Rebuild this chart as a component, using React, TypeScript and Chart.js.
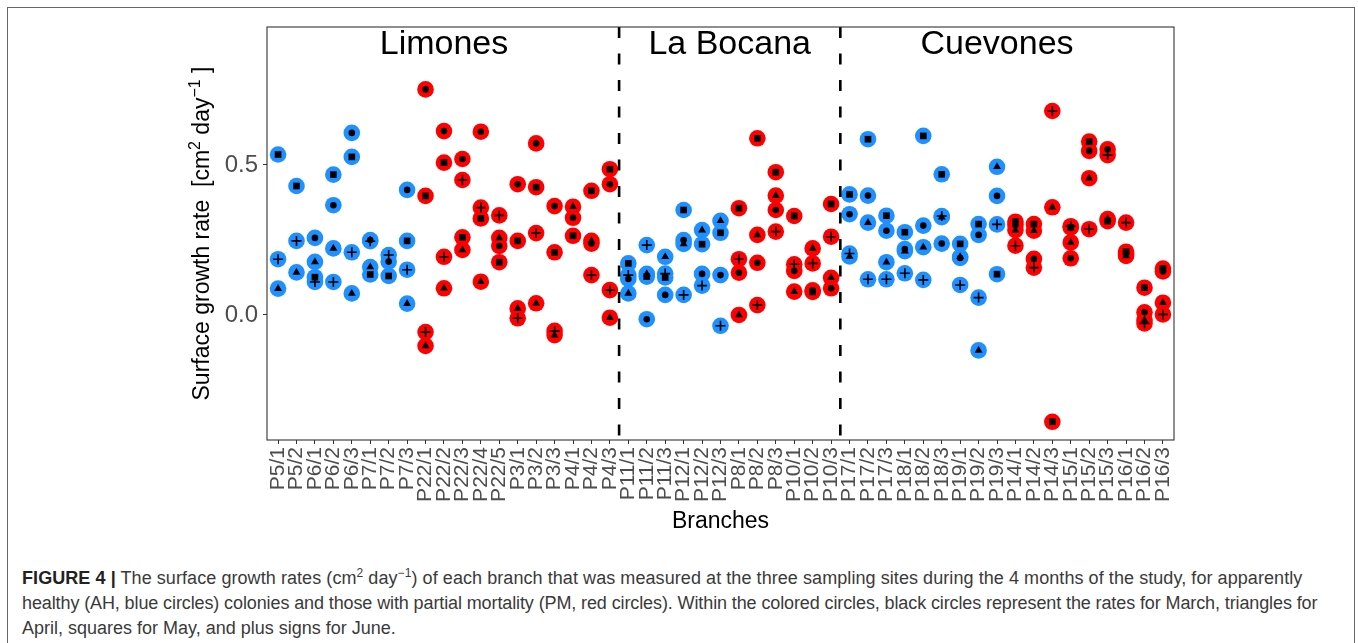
import React, { useEffect, useRef } from 'react';
import { Chart, registerables } from 'chart.js';

Chart.register(...registerables);

// ---- data ----
const branches = [
  'P5/1', 'P5/2', 'P6/1', 'P6/2', 'P6/3', 'P7/1', 'P7/2', 'P7/3',
  'P22/1', 'P22/2', 'P22/3', 'P22/4', 'P22/5', 'P3/1', 'P3/2', 'P3/3', 'P4/1', 'P4/2', 'P4/3',
  'P11/1', 'P11/2', 'P11/3', 'P12/1', 'P12/2', 'P12/3', 'P8/1', 'P8/2', 'P8/3', 'P10/1', 'P10/2', 'P10/3',
  'P17/1', 'P17/2', 'P17/3', 'P18/1', 'P18/2', 'P18/3', 'P19/1', 'P19/2', 'P19/3',
  'P14/1', 'P14/2', 'P14/3', 'P15/1', 'P15/2', 'P15/3', 'P16/1', 'P16/2', 'P16/3',
];

const groups = [
  'AH', 'AH', 'AH', 'AH', 'AH', 'AH', 'AH', 'AH',
  'PM', 'PM', 'PM', 'PM', 'PM', 'PM', 'PM', 'PM', 'PM', 'PM', 'PM',
  'AH', 'AH', 'AH', 'AH', 'AH', 'AH', 'PM', 'PM', 'PM', 'PM', 'PM', 'PM',
  'AH', 'AH', 'AH', 'AH', 'AH', 'AH', 'AH', 'AH', 'AH',
  'PM', 'PM', 'PM', 'PM', 'PM', 'PM', 'PM', 'PM', 'PM',
];

// March (black circles)
const march = [
  null, null, 0.257, 0.366, 0.607, 0.25, 0.178, 0.417,
  0.752, 0.613, 0.52, 0.611, 0.23, 0.436, 0.572, 0.363, 0.324, 0.238, 0.436,
  0.12, -0.014, 0.067, 0.25, 0.137, 0.133, 0.141, 0.174, 0.35, 0.147, 0.082, 0.089,
  0.336, 0.398, 0.281, 0.22, 0.298, 0.238, 0.19, 0.267, 0.397,
  0.3, 0.187, null, 0.189, 0.547, 0.552, 0.205, 0.009, 0.145,
];

// April (triangles)
const april = [
  0.088, 0.142, 0.177, 0.222, 0.072, 0.16, null, 0.038,
  -0.103, 0.089, 0.217, 0.111, 0.257, 0.022, 0.039, -0.067, 0.361, 0.247, -0.009,
  0.072, 0.137, 0.194, 0.237, 0.283, 0.314, 0.0, 0.267, 0.398, 0.078, 0.222, 0.124,
  0.195, 0.308, 0.176, 0.213, 0.226, 0.326, 0.194, -0.118, 0.494,
  0.283, 0.281, 0.359, 0.242, 0.456, 0.32, 0.197, -0.017, 0.041,
];

// May (squares)
const may = [
  0.535, 0.43, 0.126, 0.468, 0.527, 0.135, 0.13, 0.247,
  0.397, 0.508, 0.259, 0.322, 0.176, 0.247, 0.426, 0.209, 0.264, 0.414, 0.486,
  0.172, 0.128, 0.125, 0.35, 0.236, 0.274, 0.356, 0.589, 0.476, 0.33, 0.077, 0.37,
  0.402, 0.586, 0.331, 0.276, 0.597, 0.469, 0.237, 0.303, 0.136,
  0.311, 0.303, -0.356, 0.292, 0.578, 0.313, 0.211, 0.091, 0.155,
];

// June (plus signs)
const june = [
  0.186, 0.247, 0.11, 0.11, 0.209, 0.246, 0.2, 0.151,
  -0.057, 0.194, 0.45, 0.358, 0.332, -0.011, 0.273, -0.053, null, 0.133, 0.083,
  0.133, 0.233, 0.138, 0.067, 0.098, -0.036, 0.186, 0.033, 0.278, 0.169, 0.172, 0.261,
  0.205, 0.119, 0.119, 0.139, 0.117, 0.33, 0.1, 0.058, 0.302,
  0.231, 0.158, 0.68, 0.296, 0.286, 0.533, 0.308, -0.028, 0.002,
];

const yTicks = [0, 0.5];
const sites = ['Limones', 'La Bocana', 'Cuevones'];
const siteLabelX = [9, 24.5, 39];
const siteLabelY = 0.9;
const siteDividers = [18.5, 30.5];

const groupColors: Record<string, string> = { AH: '#1E90FF', PM: '#FF0000' };
const FONT = "'Liberation Sans', Arial, Helvetica, sans-serif";

const months = [
  { label: 'March', values: march, style: 'circle', radius: 3.3 },
  { label: 'April', values: april, style: 'triangle', radius: 4.6 },
  { label: 'May', values: may, style: 'rect', radius: 4.7 },
  { label: 'June', values: june, style: 'cross', radius: 5 },
];

function toPoints(values: (number | null)[]) {
  const pts: { x: number; y: number; g: string }[] = [];
  values.forEach((v, i) => {
    if (v !== null && v !== undefined) pts.push({ x: i, y: v, g: groups[i] });
  });
  return pts;
}

const decorPlugin = {
  id: 'decor',
  afterDatasetsDraw(chart: any) {
    const { ctx, chartArea, scales } = chart;
    const xs = scales.x;
    const ys = scales.y;
    ctx.save();
    // dashed site dividers
    ctx.strokeStyle = '#000';
    ctx.lineWidth = 2.6;
    ctx.setLineDash([11, 15.5]);
    siteDividers.forEach((d) => {
      const px = xs.getPixelForValue(d);
      ctx.beginPath();
      ctx.moveTo(px, chartArea.top);
      ctx.lineTo(px, chartArea.bottom);
      ctx.stroke();
    });
    ctx.setLineDash([]);
    // site labels
    ctx.fillStyle = '#000';
    ctx.font = `34px ${FONT}`;
    ctx.textAlign = 'center';
    ctx.textBaseline = 'middle';
    sites.forEach((s, i) => {
      ctx.fillText(s, xs.getPixelForValue(siteLabelX[i]), ys.getPixelForValue(siteLabelY));
    });
    ctx.restore();
  },
  afterDraw(chart: any) {
    const { ctx, chartArea } = chart;
    ctx.save();
    // panel border
    ctx.strokeStyle = '#333';
    ctx.lineWidth = 1.1;
    ctx.strokeRect(chartArea.left, chartArea.top, chartArea.right - chartArea.left, chartArea.bottom - chartArea.top);

    // y-axis title with superscripts
    const pieces = [
      { t: 'Surface growth rate  [cm', sup: false },
      { t: '2', sup: true },
      { t: ' day', sup: false },
      { t: '\u22121', sup: true },
      { t: ' ]', sup: false },
    ];
    const normal = `23px ${FONT}`;
    const small = `16px ${FONT}`;
    let total = 0;
    pieces.forEach((p) => {
      ctx.font = p.sup ? small : normal;
      total += ctx.measureText(p.t).width;
    });
    const cy = (chartArea.top + chartArea.bottom) / 2;
    ctx.translate(209, cy);
    ctx.rotate(-Math.PI / 2);
    ctx.fillStyle = '#000';
    ctx.textBaseline = 'alphabetic';
    ctx.textAlign = 'left';
    let x = -total / 2;
    pieces.forEach((p) => {
      ctx.font = p.sup ? small : normal;
      ctx.fillText(p.t, x, p.sup ? -9 : 0);
      x += ctx.measureText(p.t).width;
    });
    ctx.restore();
  },
};

export default function App() {
  const canvasRef = useRef<HTMLCanvasElement | null>(null);

  useEffect(() => {
    if (!canvasRef.current) return;
    const haloSets = months.map((m) => {
      const pts = toPoints(m.values);
      return {
        label: m.label + ' group',
        data: pts,
        order: 1,
        pointStyle: 'circle',
        pointRadius: 8.3,
        pointHoverRadius: 8.3,
        pointBackgroundColor: pts.map((p) => groupColors[p.g]),
        pointBorderWidth: 0,
        showLine: false,
      };
    });
    const shapeSets = months.map((m) => ({
      label: m.label,
      data: toPoints(m.values),
      order: 0,
      pointStyle: m.style,
      pointRadius: m.radius,
      pointHoverRadius: m.radius,
      pointBackgroundColor: '#000',
      pointBorderColor: '#000',
      pointBorderWidth: m.style === 'cross' ? 1.6 : 0,
      showLine: false,
    }));

    const chart = new Chart(canvasRef.current, {
      type: 'scatter',
      data: { datasets: [...shapeSets, ...haloSets] as any },
      options: {
        animation: false,
        responsive: false,
        devicePixelRatio: 1,
        layout: { padding: { left: 175, right: 184, top: 27, bottom: 0 } },
        plugins: { legend: { display: false }, tooltip: { enabled: false } },
        scales: {
          x: {
            type: 'linear',
            min: -0.6,
            max: 48.6,
            afterBuildTicks: (s: any) => {
              s.ticks = branches.map((_, i) => ({ value: i }));
            },
            afterFit: (s: any) => {
              s.height = 105;
            },
            ticks: {
              autoSkip: false,
              minRotation: 90,
              maxRotation: 90,
              padding: 3,
              color: '#4D4D4D',
              font: { family: FONT, size: 21 },
              callback: (v: any) => branches[Math.round(Number(v))],
            },
            grid: { drawOnChartArea: false, drawTicks: true, tickLength: 4, tickColor: '#333', tickWidth: 1 },
            border: { display: false },
            title: {
              display: true,
              text: 'Branches',
              color: '#000',
              font: { family: FONT, size: 23 },
              padding: { top: 0, bottom: 10 },
            },
          },
          y: {
            type: 'linear',
            min: -0.4167,
            max: 0.96,
            afterBuildTicks: (s: any) => {
              s.ticks = yTicks.map((v) => ({ value: v }));
            },
            afterFit: (s: any) => {
              s.width = 92;
            },
            ticks: {
              padding: 5,
              color: '#4D4D4D',
              font: { family: FONT, size: 24 },
              callback: (v: any) => Number(v).toFixed(1),
            },
            grid: { drawOnChartArea: false, drawTicks: true, tickLength: 4, tickColor: '#333', tickWidth: 1 },
            border: { display: false },
          },
        },
      },
      plugins: [decorPlugin],
    });
    return () => chart.destroy();
  }, []);

  const capStyle: React.CSSProperties = { whiteSpace: 'nowrap', height: 25 };
  const supStyle: React.CSSProperties = { fontSize: 12, lineHeight: 0 };

  return (
    <div
      style={{
        position: 'absolute',
        left: 0,
        top: 0,
        width: 1358,
        height: 643,
        overflow: 'hidden',
        background: '#fff',
      }}
    >
      <div
        style={{
          position: 'absolute',
          left: 7,
          top: 7,
          width: 1348,
          height: 700,
          border: '1px solid #666',
          boxSizing: 'border-box',
        }}
      />
      <canvas
        ref={canvasRef}
        width={1358}
        height={545}
        style={{ position: 'absolute', left: 0, top: 0, width: 1358, height: 545 }}
      />
      <div
        style={{
          position: 'absolute',
          left: 22,
          top: 566,
          fontFamily: FONT,
          fontSize: 18,
          lineHeight: '25px',
          color: '#3a3a3a',
        }}
      >
        <div style={{ ...capStyle, letterSpacing: 0.07 }}>
          <b style={{ color: '#222' }}>FIGURE 4 |</b> The surface growth rates (cm<sup style={supStyle}>2</sup> day<sup style={supStyle}>−1</sup>) of each branch that was measured at the three sampling sites during the 4 months of the study, for apparently
        </div>
        <div style={{ ...capStyle, letterSpacing: -0.11 }}>
          healthy (AH, blue circles) colonies and those with partial mortality (PM, red circles). Within the colored circles, black circles represent the rates for March, triangles for
        </div>
        <div style={capStyle}>April, squares for May, and plus signs for June.</div>
      </div>
    </div>
  );
}
